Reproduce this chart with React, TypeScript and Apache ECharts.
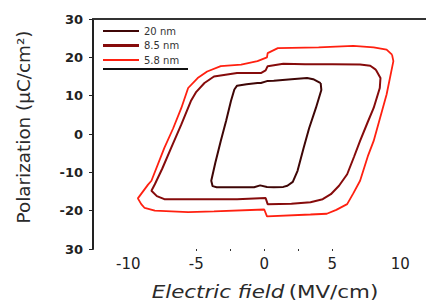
import React, { useEffect, useRef } from "react";
import * as echarts from "echarts";

const seriesNames = ["20 nm", "8.5 nm", "5.8 nm"];
const seriesColors = ["#3f0606", "#860b0b", "#ff2010"];
const seriesWidths = [2, 2, 1.8];
const legendIcons = [
  "path://M0,0H36V2H0Z",
  "path://M0,0H36V3H0Z",
  "path://M0,0H36V2H0Z",
];

const loop20: [number, number][] = [
  [4.15, 13.3], [3.6, 14.3], [3.15, 14.6], [2.0, 14.3], [0.7, 13.9], [0.2, 13.8],
  [-0.25, 13.3], [-0.5, 13.3], [-1.3, 13.0], [-2.0, 12.6], [-2.2, 11.6], [-2.45, 8.6],
  [-2.8, 3.5], [-3.2, -1.8], [-3.6, -7.5], [-3.9, -12.2], [-3.8, -13.6], [-3.5, -13.9],
  [-2.0, -13.9], [-0.75, -13.9], [-0.3, -13.4], [0.2, -13.8], [0.7, -13.9], [1.4, -13.8],
  [1.7, -13.5], [2.1, -12.5], [2.45, -9.6], [2.9, -3.6], [3.3, 1.5], [3.8, 6.8],
  [4.2, 11.5], [4.15, 13.3],
];

const loop85: [number, number][] = [
  [8.2, 16.8], [7.8, 17.8], [7.05, 18.1], [5.0, 18.2], [3.0, 18.2], [1.4, 18.3],
  [0.25, 17.7], [0.1, 16.6], [-0.25, 15.9], [-1.0, 15.9], [-2.0, 15.9], [-3.7, 15.0],
  [-4.4, 13.3], [-5.0, 11.0], [-5.4, 8.6], [-6.1, 2.5], [-6.85, -3.6], [-7.5, -9.0],
  [-8.05, -13.1], [-8.3, -14.8], [-7.9, -16.2], [-7.35, -17], [-5, -17], [-2, -17],
  [0.1, -16.7], [0.25, -18.3], [2, -18.2], [3.4, -17.8], [4.3, -17.0], [4.9, -15.7],
  [5.5, -13.5], [6.1, -10.5], [6.6, -6.0], [7.05, -1.8], [7.6, 3.0], [8.05, 6.8],
  [8.5, 12], [8.55, 14.6], [8.2, 16.8],
];

const loop58: [number, number][] = [
  [9.4, 20.7], [9.0, 22.0], [8.05, 22.6], [6.55, 23], [4.0, 22.6], [1.0, 22.4],
  [0.25, 21.1], [0.2, 20.0], [-0.5, 19.0], [-1.7, 18.1], [-3.2, 17.7], [-4.2, 16.3],
  [-4.9, 14.6], [-5.6, 12], [-6.1, 6.8], [-6.7, 1.5], [-7.35, -3.6], [-8.3, -12.2],
  [-8.55, -13.2], [-9.3, -16.8], [-9.05, -18.3], [-8.8, -19.3], [-8.05, -20],
  [-5.6, -20.4], [-3.7, -20.2], [0, -19.7], [0.2, -21.5], [3.4, -21], [4.6, -20.8],
  [5.3, -19.8], [6.1, -18.3], [6.55, -15.5], [7.05, -12.2], [7.65, -5.5], [8.05, -1.8],
  [9.0, 10.3], [9.5, 19], [9.4, 20.7],
];

const loops = [loop20, loop85, loop58];
const xLabels = [-10, -5, 0, 5, 10];
const xMinorTicks = [-5, -2.5, 0, 2.5, 5];
const xTitleItalic = "Electric field";
const xTitleUnit = "(MV/cm)";
const yTitle = "Polarization (μC/cm²)";

export default function App() {
  const ref = useRef<HTMLDivElement>(null);
  useEffect(() => {
    if (!ref.current) return;
    const chart = echarts.init(ref.current, null, { renderer: "svg" });
    chart.setOption({
      animation: false,
      grid: { left: 93, top: 19, right: 0, bottom: 59, outerBoundsMode: "none" },
      legend: {
        left: 103,
        top: 26,
        padding: 0,
        orient: "vertical",
        itemWidth: 36,
        itemHeight: 10,
        itemGap: 4.5,
        data: seriesNames.map((n, i) => ({ name: n, icon: legendIcons[i] })),
        textStyle: { fontSize: 10, color: "#333", fontFamily: "DejaVu Sans" },
      },
      xAxis: [
        {
          type: "value",
          min: -12.6,
          max: 11.9,
          position: "bottom",
          axisLine: { show: false, onZero: false },
          splitLine: { show: false },
          axisTick: {
            show: true,
            customValues: xMinorTicks,
            length: 2,
            lineStyle: { color: "#333", width: 1 },
          },
          axisLabel: {
            customValues: xLabels,
            fontSize: 15,
            color: "#222",
            margin: 7,
            fontFamily: "DejaVu Sans",
          },
        },
        {
          type: "value",
          min: -12.6,
          max: 11.9,
          position: "top",
          axisLine: { show: true, onZero: false, lineStyle: { color: "#333", width: 2 } },
          axisTick: { show: false },
          axisLabel: { show: false },
          splitLine: { show: false },
        },
      ],
      yAxis: {
        type: "value",
        min: -30,
        max: 30,
        interval: 10,
        axisLine: { show: true, onZero: false, lineStyle: { color: "#222", width: 2 } },
        axisTick: { show: true, length: 4, lineStyle: { color: "#222", width: 1 } },
        splitLine: { show: false },
        axisLabel: {
          fontSize: 13,
          fontWeight: "bold",
          color: "#222",
          margin: 10,
          fontFamily: "DejaVu Sans",
          formatter: (v: number) => (v === -30 ? "30" : String(v)),
        },
      },
      graphic: [
        {
          type: "line",
          shape: { x1: 103, y1: 69, x2: 188, y2: 69 },
          style: { stroke: "#111", lineWidth: 2 },
        },
        {
          type: "text",
          x: 265,
          y: 292,
          scaleX: 1.26,
          style: {
            text: "{i|" + xTitleItalic + "} {n|" + xTitleUnit + "}",
            align: "center",
            verticalAlign: "middle",
            rich: {
              i: { fontSize: 17, fontStyle: "italic", fill: "#2a2a2a", fontFamily: "DejaVu Sans" },
              n: { fontSize: 17, fill: "#2a2a2a", fontFamily: "DejaVu Sans" },
            },
          },
        },
        {
          type: "text",
          x: 24,
          y: 127,
          rotation: Math.PI / 2,
          scaleX: 1.08,
          style: {
            text: yTitle,
            align: "center",
            verticalAlign: "middle",
            fontSize: 17,
            fill: "#2a2a2a",
            fontFamily: "DejaVu Sans",
          },
        },
      ],
      series: loops.map((d, i) => ({
        name: seriesNames[i],
        type: "line",
        xAxisIndex: 0,
        data: d,
        symbol: "none",
        lineStyle: { color: seriesColors[i], width: seriesWidths[i] },
        itemStyle: { color: seriesColors[i] },
      })),
    });
    return () => chart.dispose();
  }, []);
  return <div ref={ref} style={{ width: 426, height: 308, position: "absolute", left: 0, top: 0 }} />;
}
